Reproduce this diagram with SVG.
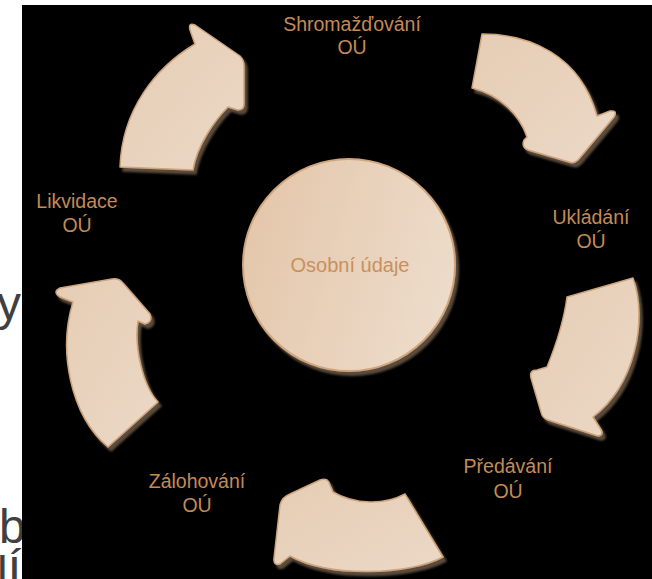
<svg xmlns="http://www.w3.org/2000/svg" width="652" height="579" viewBox="0 0 652 579">
<defs>
<style>
.lbl{font-family:"Liberation Sans",Arial,sans-serif;font-size:19.5px;fill:#c48b57;text-anchor:middle}
.ctr{font-family:"Liberation Sans",Arial,sans-serif;font-size:20px;fill:#c9905c;text-anchor:middle}
.frag{font-family:"Liberation Sans",Arial,sans-serif;font-size:48px;fill:#404040}
.arr{fill:url(#ga);stroke:#cda47d;stroke-width:1.5;stroke-linejoin:round;filter:url(#sh)}
</style>
<linearGradient id="gc" x1="0" y1="0.35" x2="1" y2="0.65">
<stop offset="0" stop-color="#e4c7ab"/>
<stop offset="1" stop-color="#eddccb"/>
</linearGradient>
<linearGradient id="ga" x1="0" y1="0" x2="1" y2="1">
<stop offset="0" stop-color="#e6cdb4"/>
<stop offset="1" stop-color="#ebd8c6"/>
</linearGradient>
<filter id="sh" x="-20%" y="-20%" width="150%" height="150%">
<feGaussianBlur in="SourceAlpha" stdDeviation="1"/>
<feOffset dx="3" dy="4" result="o"/>
<feFlood flood-color="#5a4b3d"/>
<feComposite in2="o" operator="in" result="s"/>
<feMerge><feMergeNode in="s"/><feMergeNode in="SourceGraphic"/></feMerge>
</filter>
</defs>
<rect x="0" y="0" width="652" height="579" fill="#ffffff"/>
<g id="fragments">
<text class="frag" x="-3" y="320">y</text>
<text class="frag" x="-1" y="543">b</text>
<text class="frag" x="-3" y="590">lÍ</text>
</g>
<rect x="22" y="5" width="630" height="574" fill="#000000"/>
<g id="connectors">
<path class="arr" d="M120,167 C122,110 155,68 195,44 L190,30 Q188,22 195,25 L240,56 Q244,60 244,66 L244,104 Q244,110 238,110 L228,107 C215,120 197,145 193,170 Z"/>
<path class="arr" d="M482,34 C530,34 580,55 597,116 L610,111 Q618,110 614,117 L578,160 Q574,164 569,162 L528,150 Q521,147 524,140 L527,137 C520,115 500,95 472,88 Z"/>
<path class="arr" d="M567,297 L633,278 C648,320 635,385 593,417 L600,428 Q605,435 598,436 L548,420 Q542,418 541,412 L531,378 Q529,370 537,370 L547,367 C556,345 564,320 567,297 Z"/>
<path class="arr" d="M405,494 L443,557 C410,575 330,578 290,556 L280,564 Q273,566 274,558 L280,505 Q282,497 290,494 L320,480 Q328,477 330,485 L333,492 C355,505 385,505 405,494 Z"/>
<path class="arr" d="M108,447 C70,415 58,350 73,302 L60,297 Q52,292 60,288 L112,279 Q119,278 123,283 L150,314 Q153,322 145,324 L138,321 C134,345 142,385 158,402 Z"/>
</g>
<g id="center">
<circle cx="349" cy="265" r="106" fill="url(#gc)" stroke="#cfa57e" stroke-width="2" filter="url(#sh)"/>
<text class="ctr" x="350" y="272">Osobní údaje</text>
</g>
<g id="n1"><text class="lbl" x="352" y="31">Shromažďování</text><text class="lbl" x="352" y="54">OÚ</text></g>
<g id="n2"><text class="lbl" x="591" y="224">Ukládání</text><text class="lbl" x="591" y="248">OÚ</text></g>
<g id="n3"><text class="lbl" x="508" y="473">Předávání</text><text class="lbl" x="508" y="498">OÚ</text></g>
<g id="n4"><text class="lbl" x="197" y="488">Zálohování</text><text class="lbl" x="197" y="512">OÚ</text></g>
<g id="n5"><text class="lbl" x="77" y="208">Likvidace</text><text class="lbl" x="77" y="232">OÚ</text></g>
</svg>
